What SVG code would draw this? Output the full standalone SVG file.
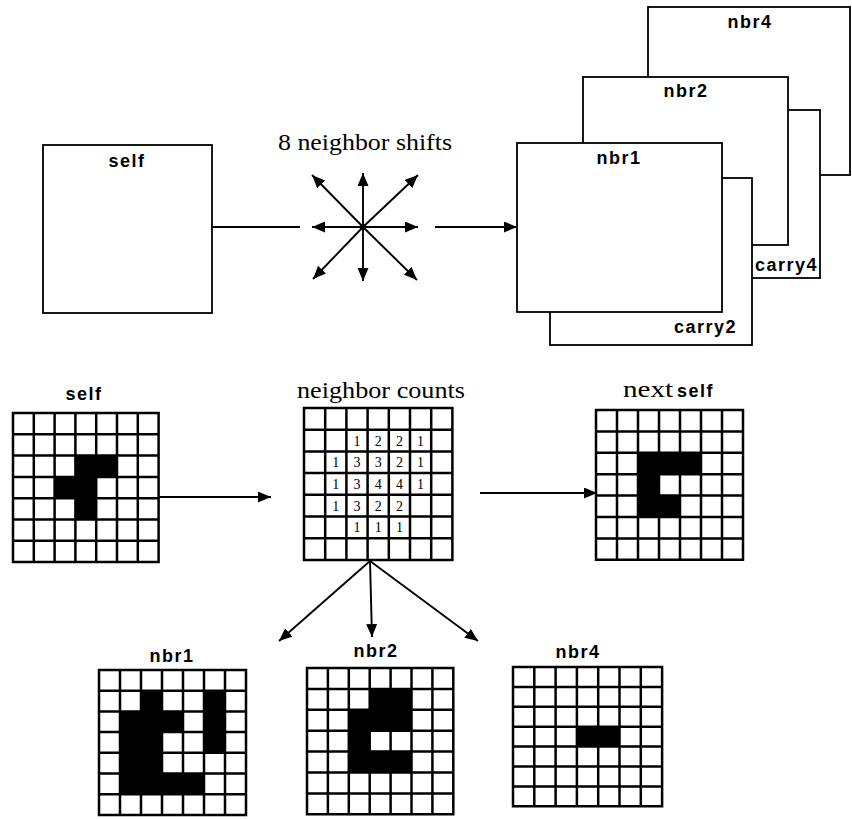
<svg xmlns="http://www.w3.org/2000/svg" xmlns:xlink="http://www.w3.org/1999/xlink" width="852" height="819" viewBox="0 0 852 819">
<style>
.bg{fill:#fff}
.box{fill:#fff;stroke:#000;stroke-width:1.8}
.gl{fill:none;stroke:#000;stroke-width:2.5;vector-effect:non-scaling-stroke}
.on{fill:#000}
.ln{fill:none;stroke:#000;stroke-width:1.9}
.sans{font-family:"Liberation Sans",Arial,Helvetica,sans-serif;font-weight:bold;font-size:18px;letter-spacing:1.5px;fill:#000}
.serif{font-family:"Liberation Serif","Times New Roman",serif;font-size:23px;fill:#000}
.num{font-family:"Liberation Serif","Times New Roman",serif;font-size:14px;fill:#000;text-anchor:middle}
</style>
<defs>
<marker id="ah" markerUnits="userSpaceOnUse" markerWidth="14" markerHeight="12" refX="13" refY="5.5" orient="auto">
<path d="M0,0 L13,5.5 L0,11 Z" fill="#000"/>
</marker>
<path id="grid" class="gl" d="M0 0H7V7H0Z M1 0V7 M2 0V7 M3 0V7 M4 0V7 M5 0V7 M6 0V7 M0 1H7 M0 2H7 M0 3H7 M0 4H7 M0 5H7 M0 6H7"/>
</defs>
<rect class="bg" x="0" y="0" width="852" height="819"/>

<!-- top: self box -->
<g id="top-self">
<rect class="box" x="43" y="145" width="169" height="168"/>
<text class="sans" x="127" y="167" text-anchor="middle">self</text>
</g>

<g id="shifts">
<text class="serif" x="278" y="150" textLength="174" lengthAdjust="spacingAndGlyphs">8 neighbor shifts</text>
<g class="ln" marker-end="url(#ah)">
<line x1="363" y1="227" x2="312" y2="227"/>
<line x1="363" y1="227" x2="418" y2="227"/>
<line x1="363" y1="227" x2="363" y2="173"/>
<line x1="363" y1="227" x2="363" y2="281"/>
<line x1="363" y1="227" x2="312" y2="175"/>
<line x1="363" y1="227" x2="418" y2="175"/>
<line x1="363" y1="227" x2="313" y2="279"/>
<line x1="363" y1="227" x2="417" y2="280"/>
</g>
<circle cx="363" cy="227" r="3.2" fill="#000"/>
</g>

<!-- stacked planes -->
<g id="nbr4-plane">
<rect class="box" x="648" y="7" width="202" height="168"/>
<text class="sans" x="750" y="28" text-anchor="middle">nbr4</text>
</g>
<g id="carry4-plane">
<rect class="box" x="617" y="110" width="203" height="168"/>
<text class="sans" x="818" y="271" text-anchor="end">carry4</text>
</g>
<g id="nbr2-plane">
<rect class="box" x="583" y="77" width="205" height="168"/>
<text class="sans" x="686" y="97" text-anchor="middle">nbr2</text>
</g>
<g id="carry2-plane">
<rect class="box" x="550" y="178" width="202" height="167"/>
<text class="sans" x="737" y="333" text-anchor="end">carry2</text>
</g>
<g id="nbr1-plane">
<rect class="box" x="517" y="143" width="205" height="169"/>
<text class="sans" x="619" y="164" text-anchor="middle">nbr1</text>
</g>

<!-- bottom: self grid -->
<g id="self-grid">
<text class="sans" x="84" y="400" text-anchor="middle">self</text>
<g transform="translate(13,413) scale(20.8,21.3)">
<rect class="on" x="3" y="2" width="2" height="1"/>
<rect class="on" x="2" y="3" width="2" height="1"/>
<rect class="on" x="3" y="4" width="1" height="1"/>
<use xlink:href="#grid" href="#grid"/>
</g>
</g>

<!-- neighbor counts -->
<g id="counts-grid">
<text class="serif" x="297" y="398" textLength="168" lengthAdjust="spacingAndGlyphs">neighbor counts</text>
<g transform="translate(304,408) scale(21.2,21.7)">
<use xlink:href="#grid" href="#grid"/>
</g>
<text class="num" x="357" y="445.6">1</text>
<text class="num" x="378.2" y="445.6">2</text>
<text class="num" x="399.4" y="445.6">2</text>
<text class="num" x="420.6" y="445.6">1</text>
<text class="num" x="335.8" y="467.2">1</text>
<text class="num" x="357" y="467.2">3</text>
<text class="num" x="378.2" y="467.2">3</text>
<text class="num" x="399.4" y="467.2">2</text>
<text class="num" x="420.6" y="467.2">1</text>
<text class="num" x="335.8" y="488.9">1</text>
<text class="num" x="357" y="488.9">3</text>
<text class="num" x="378.2" y="488.9">4</text>
<text class="num" x="399.4" y="488.9">4</text>
<text class="num" x="420.6" y="488.9">1</text>
<text class="num" x="335.8" y="510.6">1</text>
<text class="num" x="357" y="510.6">3</text>
<text class="num" x="378.2" y="510.6">2</text>
<text class="num" x="399.4" y="510.6">2</text>
<text class="num" x="357" y="532.3">1</text>
<text class="num" x="378.2" y="532.3">1</text>
<text class="num" x="399.4" y="532.3">1</text>
</g>

<!-- next self -->
<g id="next-self-grid">
<text class="serif" x="623" y="397" textLength="50" lengthAdjust="spacingAndGlyphs">next</text>
<text class="sans" x="677" y="397">self</text>
<g transform="translate(596,410) scale(21,21.4)">
<rect class="on" x="2" y="2" width="3" height="1"/>
<rect class="on" x="2" y="3" width="1" height="1"/>
<rect class="on" x="2" y="4" width="2" height="1"/>
<use xlink:href="#grid" href="#grid"/>
</g>
</g>

<!-- nbr1 -->
<g id="nbr1-grid">
<text class="sans" x="172" y="662" text-anchor="middle">nbr1</text>
<g transform="translate(99,670) scale(21,20.7)">
<rect class="on" x="2" y="1" width="1" height="1"/>
<rect class="on" x="5" y="1" width="1" height="3"/>
<rect class="on" x="1" y="2" width="3" height="1"/>
<rect class="on" x="1" y="3" width="2" height="2"/>
<rect class="on" x="1" y="5" width="4" height="1"/>
<use xlink:href="#grid" href="#grid"/>
</g>
</g>

<!-- nbr2 -->
<g id="nbr2-grid">
<text class="sans" x="376" y="657" text-anchor="middle">nbr2</text>
<g transform="translate(307,668) scale(20.9,20.9)">
<rect class="on" x="3" y="1" width="2" height="1"/>
<rect class="on" x="2" y="2" width="3" height="1"/>
<rect class="on" x="2" y="3" width="1" height="1"/>
<rect class="on" x="2" y="4" width="3" height="1"/>
<use xlink:href="#grid" href="#grid"/>
</g>
</g>

<!-- nbr4 -->
<g id="nbr4-grid">
<text class="sans" x="578" y="658" text-anchor="middle">nbr4</text>
<g transform="translate(513,667) scale(21.3,19.9)">
<rect class="on" x="3" y="3" width="2" height="1"/>
<use xlink:href="#grid" href="#grid"/>
</g>
</g>

<!-- connectors -->
<g id="connectors" class="ln">
<line x1="212" y1="227" x2="300" y2="227"/>
<line x1="435" y1="227" x2="517" y2="227" marker-end="url(#ah)"/>
<line x1="159" y1="497" x2="271" y2="497" marker-end="url(#ah)"/>
<line x1="480" y1="493" x2="597" y2="493" marker-end="url(#ah)"/>
<line x1="370" y1="561" x2="279" y2="641" marker-end="url(#ah)"/>
<line x1="370" y1="561" x2="372" y2="637" marker-end="url(#ah)"/>
<line x1="370" y1="561" x2="478" y2="641" marker-end="url(#ah)"/>
</g>
</svg>
